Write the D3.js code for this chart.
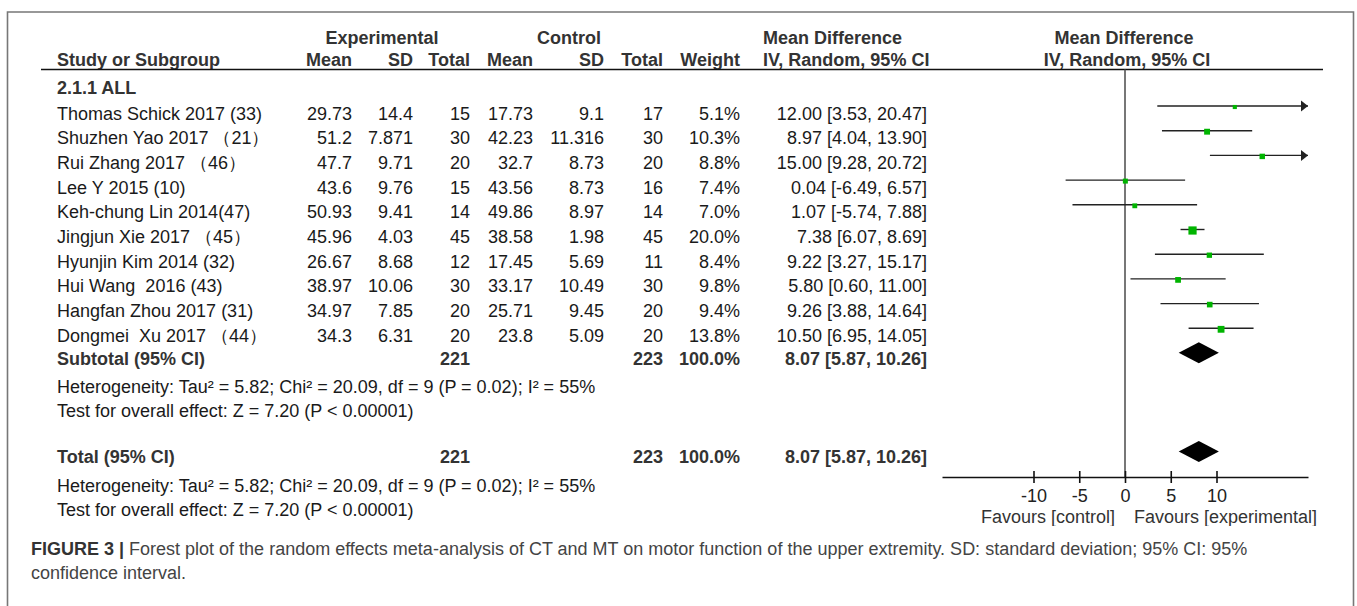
<!DOCTYPE html>
<html>
<head>
<meta charset="utf-8">
<script src="https://cdn.jsdelivr.net/npm/d3@7"></script>
<style>
  html, body { margin: 0; padding: 0; background: #fff; }
  svg { display: block; font-family: "Liberation Sans", Arial, sans-serif; }
  text { white-space: pre; }
</style>
</head>
<body>
<svg id="chart" width="1357" height="606"></svg>
<script>
// study data
var studies = ["Thomas Schick 2017 (33)", "Shuzhen Yao 2017 （21）", "Rui Zhang 2017 （46）",
  "Lee Y 2015 (10)", "Keh-chung Lin 2014(47)", "Jingjun Xie 2017 （45）", "Hyunjin Kim 2014 (32)",
  "Hui Wang  2016 (43)", "Hangfan Zhou 2017 (31)", "Dongmei  Xu 2017 （44）"];
var expMean = ["29.73", "51.2", "47.7", "43.6", "50.93", "45.96", "26.67", "38.97", "34.97", "34.3"];
var expSD   = ["14.4", "7.871", "9.71", "9.76", "9.41", "4.03", "8.68", "10.06", "7.85", "6.31"];
var expN    = [15, 30, 20, 15, 14, 45, 12, 30, 20, 20];
var ctlMean = ["17.73", "42.23", "32.7", "43.56", "49.86", "38.58", "17.45", "33.17", "25.71", "23.8"];
var ctlSD   = ["9.1", "11.316", "8.73", "8.73", "8.97", "1.98", "5.69", "10.49", "9.45", "5.09"];
var ctlN    = [17, 30, 20, 16, 14, 45, 11, 30, 20, 20];
var weight  = [5.1, 10.3, 8.8, 7.4, 7.0, 20.0, 8.4, 9.8, 9.4, 13.8];
var md      = [12.00, 8.97, 15.00, 0.04, 1.07, 7.38, 9.22, 5.80, 9.26, 10.50];
var lo      = [3.53, 4.04, 9.28, -6.49, -5.74, 6.07, 3.27, 0.60, 3.88, 6.95];
var hi      = [20.47, 13.90, 20.72, 6.57, 7.88, 8.69, 15.17, 11.00, 14.64, 14.05];

var pooled = [8.07, 5.87, 10.26];   // estimate, lower, upper
var pooledN = [221, 223];
var hetText = "Heterogeneity: Tau² = 5.82; Chi² = 20.09, df = 9 (P = 0.02); I² = 55%";
var testText = "Test for overall effect: Z = 7.20 (P < 0.00001)";
var ticks = [-10, -5, 0, 5, 10];

var svg = d3.select("#chart");
var f2 = function(v) { return v.toFixed(2); };
var ci = function(m, l, h) { return f2(m) + " [" + f2(l) + ", " + f2(h) + "]"; };

svg.append("rect").attr("width", 1357).attr("height", 606).attr("fill", "#fff");

// figure frame (open at the bottom)
svg.append("path")
  .attr("d", "M7.5,606V12H1353.5V606")
  .attr("fill", "none").attr("stroke", "#777").attr("stroke-width", 1.6);

svg.append("clipPath").attr("id", "clip")
  .append("rect").attr("x", 0).attr("y", 0).attr("width", 1357).attr("height", 526);
var g = svg.append("g").attr("clip-path", "url(#clip)");

var x = d3.scaleLinear().domain([-20, 20]).range([942, 1308]);
var y = d3.scalePoint().domain(studies).range([106, 106 + 24.7 * 9]);
var box = d3.scaleSqrt().domain([0, 20]).range([0, 8.2]);
var txtOff = 13.5;

// column right edges
var col = { eM: 352, eS: 413, eN: 470, cM: 533, cS: 604, cN: 663, w: 740, ci: 927 };

function put(sel, t, xx, yy, anchor, bold, fill) {
  return sel.append("text").text(t).attr("x", xx).attr("y", yy)
    .attr("text-anchor", anchor || "end")
    .attr("font-size", 18)
    .attr("font-weight", bold ? "bold" : "normal")
    .attr("fill", fill || (bold ? "#333" : "#1a1a1a"));
}

// headers
put(g, "Experimental", 382, 44, "middle", true);
put(g, "Control", 569, 44, "middle", true);
put(g, "Mean Difference", 763, 44, "start", true);
put(g, "Mean Difference", 1124, 44, "middle", true);
put(g, "Study or Subgroup", 57, 66, "start", true);
put(g, "Mean", 306, 66, "start", true);
put(g, "SD", col.eS, 66, "end", true);
put(g, "Total", col.eN, 66, "end", true);
put(g, "Mean", 487, 66, "start", true);
put(g, "SD", col.cS, 66, "end", true);
put(g, "Total", col.cN, 66, "end", true);
put(g, "Weight", col.w, 66, "end", true);
put(g, "IV, Random, 95% CI", 763, 66, "start", true);
put(g, "IV, Random, 95% CI", 1127, 66, "middle", true);

g.append("line").attr("x1", 41).attr("x2", 1323).attr("y1", 69.5).attr("y2", 69.5)
  .attr("stroke", "#111").attr("stroke-width", 1.6);

put(g, "2.1.1 ALL", 57, 94, "start", true);

// study rows
studies.forEach(function(s, i) {
  var ty = y(s) + txtOff;
  put(g, s, 57, ty, "start");
  put(g, expMean[i], col.eM, ty);
  put(g, expSD[i], col.eS, ty);
  put(g, expN[i], col.eN, ty);
  put(g, ctlMean[i], col.cM, ty);
  put(g, ctlSD[i], col.cS, ty);
  put(g, ctlN[i], col.cN, ty);
  put(g, weight[i].toFixed(1) + "%", col.w, ty);
  put(g, ci(md[i], lo[i], hi[i]), col.ci, ty);
});

var subY = 352.7, totY = 451.5;
[[subY, "Subtotal (95% CI)", 365, 392.5, 417], [totY, "Total (95% CI)", 463, 491.5, 516]].forEach(function(r) {
  put(g, r[1], 57, r[2], "start", true);
  put(g, pooledN[0], col.eN, r[2], "end", true);
  put(g, pooledN[1], col.cN, r[2], "end", true);
  put(g, "100.0%", col.w, r[2], "end", true);
  put(g, ci(pooled[0], pooled[1], pooled[2]), col.ci, r[2], "end", true);
  put(g, hetText, 57, r[3], "start");
  put(g, testText, 57, r[4], "start");
});

// zero line
g.append("line").attr("x1", x(0)).attr("x2", x(0)).attr("y1", 69.5).attr("y2", 477)
  .attr("stroke", "#555").attr("stroke-width", 1.6);

// confidence intervals
var rows = g.append("g");
studies.forEach(function(s, i) {
  var yy = y(s), x1 = x(Math.max(lo[i], -20)), x2 = x(Math.min(hi[i], 20));
  rows.append("line").attr("x1", x1).attr("x2", x2).attr("y1", yy).attr("y2", yy)
    .attr("stroke", "#222").attr("stroke-width", 1.4);
  if (hi[i] > 20) {
    rows.append("path")
      .attr("d", "M" + x2 + "," + yy + "l-7,-5.5v11z")
      .attr("fill", "#222");
  }
  var b = box(weight[i]);
  rows.append("rect").attr("x", x(md[i]) - b / 2).attr("y", yy - b / 2 + 1)
    .attr("width", b).attr("height", b).attr("fill", "#00b400");
});

// pooled diamonds
[subY, totY].forEach(function(yy) {
  g.append("path")
    .attr("d", "M" + x(pooled[1]) + "," + yy + "L" + x(pooled[0]) + "," + (yy - 10.5) +
      "L" + x(pooled[2]) + "," + yy + "L" + x(pooled[0]) + "," + (yy + 10.5) + "Z")
    .attr("fill", "#000");
});

// axis
var axis = g.append("g").attr("transform", "translate(0,477)")
  .call(d3.axisBottom(x).tickValues(ticks).tickSizeOuter(0).tickSizeInner(6).tickPadding(10)
    .tickFormat(function(d) { return String(d); }));
axis.select(".domain").attr("stroke", "#111").attr("stroke-width", 1.6);
axis.selectAll(".tick line").attr("y1", -6).attr("y2", 6).attr("stroke", "#111").attr("stroke-width", 1.6);
axis.selectAll(".tick text").attr("font-size", 18).attr("fill", "#222")
  .attr("font-family", "Liberation Sans, Arial, sans-serif").attr("dy", null).attr("y", 25);

put(g, "Favours [control]", 1115, 523, "end", false, "#333");
put(g, "Favours [experimental]", 1134, 523, "start", false, "#333");

// caption
var cap = svg.append("text").attr("x", 31).attr("y", 555).attr("font-size", 18).attr("fill", "#444");
cap.append("tspan").text("FIGURE 3 | ").attr("font-weight", "bold").attr("fill", "#333");
cap.append("tspan").text("Forest plot of the random effects meta-analysis of CT and MT on motor function of the upper extremity. SD: standard deviation; 95% CI: 95%");
svg.append("text").text("confidence interval.").attr("x", 31).attr("y", 579)
  .attr("font-size", 18).attr("fill", "#444");
</script>
</body>
</html>
